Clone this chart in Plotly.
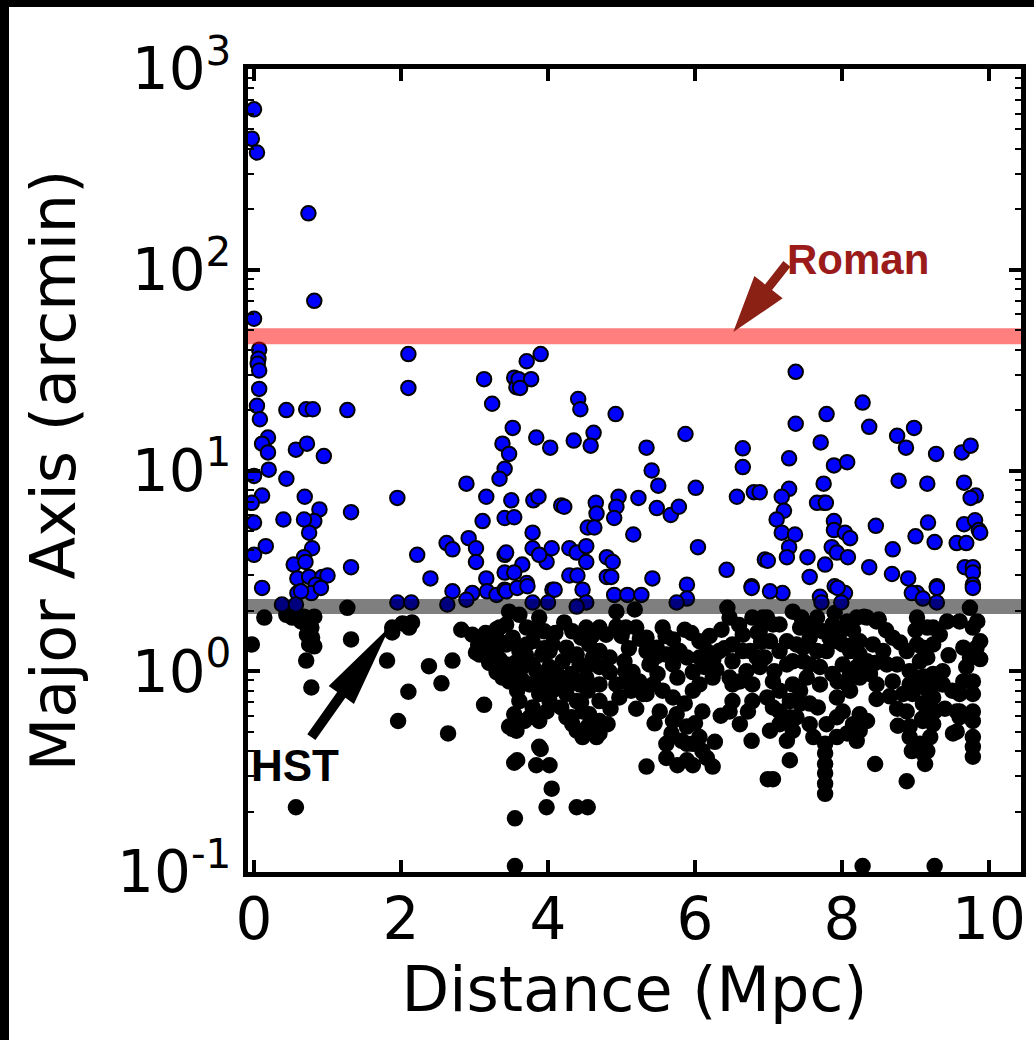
import math
import plotly.graph_objects as go

# ---------------- data (Distance in Mpc, Major axis in arcmin) ----------------
blue_x = [
    0.00, -0.03, 0.04, 0.74, 0.82, 0.00,
    0.07, 0.06, 0.05, 0.07, 0.07, 0.04, 0.08,
    0.44, 0.71, 0.80, 1.27, 2.10, 2.10,
    0.19, 0.11, 0.19, 0.57, 0.72, 0.95,
    0.00, 0.20, 0.44, 0.11, -0.03, 0.69, 0.89, 1.32, 1.95,
    0.82, 0.75, 0.79, 0.68, 0.40, 0.00, 0.16, 0.00, 0.68, 0.54,
    0.59, 0.75, 0.93, 1.00, 0.84, 0.78, 0.59, 0.11, 1.32, 2.22, 2.40,
    0.91, 0.38, 0.57, 1.95, 2.14, 0.64, 0.70,
    2.89, 3.16, 3.11, 2.62, 2.70, 2.92, 3.02, 3.02, 3.41, 3.41, 3.16, 3.41,
    2.70, 2.97, 3.17, 3.30, 2.63, 2.89,
    3.13, 3.24, 3.54, 3.57, 3.52, 3.38, 3.47, 3.41, 3.34, 3.50,
    3.90, 3.71, 3.60, 3.77, 3.62,
    4.41, 4.44, 4.92, 3.84, 4.03, 4.35, 4.62, 4.58, 5.87, 5.34, 5.41, 5.50,
    6.01, 6.65, 6.65,
    3.80, 3.87, 4.18, 4.22, 4.65, 4.66, 4.96, 4.93, 4.90, 5.23, 5.48, 5.67,
    5.78, 6.80, 6.57,
    4.54, 4.63, 5.16, 3.54, 3.79, 3.79,
    3.43, 3.65, 3.98, 4.05, 3.88, 4.29, 4.39, 4.52, 4.52,
    4.80, 4.88, 4.80, 4.86, 4.29, 4.40, 3.54, 3.71, 3.41, 4.06, 4.47,
    5.42, 5.89, 6.04, 6.43, 6.77, 4.90, 5.08, 5.27, 6.95,
    3.43, 3.58, 3.72, 3.79, 4.00, 4.09, 4.52, 4.39, 5.89, 5.75,
    7.37, 8.28, 7.79, 7.37, 8.37, 8.98, 8.75, 8.87, 7.28, 7.71, 7.89, 8.07,
    9.28, 9.63, 9.75, 8.77, 9.16, 9.66, 9.82, 9.75, 7.75, 7.75, 7.28, 7.18,
    7.21, 6.88,
    7.66, 7.78, 7.11, 7.89, 7.89, 8.04, 8.11, 7.18, 7.36, 7.28, 7.25, 7.86,
    7.93, 8.08, 7.53, 7.77, 7.56, 6.99,
    8.46, 8.69, 8.37, 8.68, 8.90, 9.02, 9.29, 9.00, 9.17, 9.26, 9.56, 9.69,
    9.66, 9.81, 9.86, 9.67, 9.78, 9.78, 9.78, 9.88,
    7.19, 7.02, 7.70, 8.04, 7.90, 7.72, 7.94, 7.99, 8.95, 9.10, 9.29, 9.29,
    9.78, 6.77,
]
blue_y = [
    630, 450, 384, 191, 70, 57,
    40, 36, 34, 31.5, 25.5, 21, 18,
    20, 20.2, 20.2, 20, 38, 25.8,
    14.6, 13.6, 12.3, 12.7, 13.6, 11.8,
    9.4, 10.1, 9.1, 7.5, 6.9, 7.4, 6.4, 6.2, 7.3,
    5.6, 4.9, 4.1, 5.7, 5.7, 5.5, 4.2, 3.8, 3.7, 3.4,
    2.9, 2.95, 2.95, 3.0, 2.7, 2.45, 2.45, 2.6, 3.3, 3.8, 2.9,
    2.6, 2.15, 2.15, 2.2, 2.2, 2.5, 3.5,
    8.6, 7.4, 5.6, 4.35, 4.05, 4.6, 4.1, 3.5, 5.8, 3.8, 2.9, 3.1,
    2.5, 2.45, 2.5, 2.4, 2.15, 2.27,
    28.5, 21.5, 29, 26, 16.3, 13.6, 12.1, 10.2, 9.1, 7.1,
    38, 35, 28.5, 28.5, 25.8,
    22.7, 20.2, 19.1, 14.6, 13.0, 14.1, 15.4, 13.3, 15.2, 13.0, 10.0, 8.4,
    8.2, 12.9, 10.4,
    7.1, 7.4, 6.7, 6.6, 6.9, 6.1, 7.4, 6.6, 5.8, 7.3, 6.5, 6.0,
    6.6, 7.8, 7.4,
    5.2, 5.2, 4.8, 5.85, 4.9, 4.1,
    3.9, 3.4, 3.5, 4.1, 3.8, 4.1, 3.9, 4.2, 3.5,
    3.7, 3.5, 2.95, 2.95, 3.0, 3.0, 3.1, 2.75, 2.55, 2.55, 2.55,
    2.9, 2.7, 4.15, 3.2, 2.65, 2.4, 2.4, 2.4, 3.6,
    2.5, 2.6, 2.65, 2.2, 2.2, 2.55, 2.2, 2.1, 2.3, 2.2,
    31, 21.8, 19.1, 17.1, 16.5, 16.3, 14.9, 13.0, 11.5, 13.8, 10.6, 11.0,
    12.1, 12.3, 13.3, 8.9, 8.6, 8.7, 7.5, 7.3, 8.6, 6.9, 8.1, 7.4,
    6.3, 7.8,
    6.9, 6.9, 5.7, 5.6, 5.05, 4.9, 4.6, 4.9, 4.8, 4.15, 3.7, 4.15,
    3.9, 3.7, 3.7, 3.4, 2.95, 3.55,
    5.3, 4.05, 3.3, 3.05, 2.9, 2.45, 2.65, 4.7, 5.5, 4.4, 4.35, 4.35,
    5.4, 5.65, 5.05, 3.3, 3.3, 3.1, 2.7, 4.9,
    2.45, 2.5, 2.35, 2.45, 2.65, 2.2, 2.6, 2.2, 2.45, 2.3, 2.6, 2.2,
    2.6, 2.6,
]

black_x = [
    1.27, 0.14, 0.44, 0.52, 0.64, 0.71, 0.78, 0.72, 0.79, 0.82, 0.75, 0.68,
    0.82, -0.03, 1.32, 0.71, 0.78, 1.81, 1.88, 2.02, 2.15, 2.11, 1.88, 2.10,
    1.96, 2.38, 2.55, 2.70, 2.64, 3.13, 0.57,
    2.82, 2.97, 3.11, 3.07, 3.24, 3.34, 3.38, 3.47, 3.55, 3.55,
    3.02, 3.30, 3.43, 3.20, 3.30,
    3.47, 3.61, 3.88, 3.95, 3.84, 4.22, 4.33, 4.52, 4.56, 4.45, 4.93, 4.93,
    5.18, 5.20, 5.34, 5.48, 5.48, 5.56, 5.70, 5.86, 6.06, 6.36, 6.44, 6.47,
    6.65, 6.78, 6.85, 6.92, 3.34,
    3.43, 3.52, 3.61, 3.43, 3.65, 3.47, 3.58, 3.75, 3.92, 3.84, 4.02, 4.20,
    4.16, 4.32, 4.43, 4.25, 4.56, 4.54, 4.70, 4.84, 5.04, 5.15, 4.97, 5.13,
    5.29, 5.49, 5.70, 5.76, 5.97, 6.13, 6.29, 6.51, 6.61, 6.47, 6.70, 6.78,
    3.54, 3.57, 3.79, 3.88, 3.68, 4.18, 4.32, 4.47, 4.33, 4.54, 4.70, 4.81,
    4.47, 4.66, 5.52, 5.70, 5.86, 5.70, 6.10, 5.68, 5.82, 5.97, 6.10, 6.27,
    6.47, 6.61, 6.72, 6.77,
    3.88, 3.58, 3.84, 4.02, 5.34, 5.76, 5.97, 6.24, 6.99, 4.05, 3.98, 4.39,
    4.54, 3.54, 3.52, 3.90,
    3.34, 3.71, 3.71, 4.06, 3.92, 4.11, 4.39, 4.70, 4.70, 4.52, 4.39, 4.70,
    5.06, 5.24, 5.38, 5.34, 5.89, 6.16, 6.24, 6.06, 6.51, 6.65, 6.84, 5.06,
    4.79, 3.88, 3.61, 4.02, 5.75, 5.56, 5.89, 5.97,
    6.98, 7.15, 7.02, 6.95, 7.15, 7.08, 7.25, 7.33, 7.43, 7.38, 7.47, 7.56,
    7.33, 7.52, 7.66, 7.74, 7.79, 7.87, 7.93, 8.01, 8.11, 7.94, 8.20, 8.34,
    8.47, 8.24, 8.42, 8.34, 8.20,
    6.98, 7.15, 7.29, 7.43, 7.15, 7.02, 7.25, 7.29, 7.06, 7.56, 7.67, 7.79,
    7.77, 7.77, 7.77, 7.77, 7.77, 7.77,
    7.93, 8.11, 8.01, 8.24, 8.07, 8.24, 8.34, 8.47, 8.47, 8.65, 8.45, 8.88,
    8.69, 8.79, 8.88, 8.75, 8.92, 8.69, 9.02, 9.16, 9.24, 9.33, 9.16, 9.24,
    9.37,
    8.96, 9.10, 9.24, 8.88, 8.76, 8.92, 9.10, 9.24, 9.20, 9.16, 9.13, 9.51,
    9.60, 9.74, 9.78, 9.88, 9.65, 9.74, 9.88, 9.65, 9.78, 9.60, 9.78, 9.78,
    9.78, 9.78, 9.56, 9.56,
    8.28, 9.26, 9.11, 9.16, 9.16, 9.09, 8.30, 8.50,
    6.88, 7.06, 7.56, 7.70, 7.56, 7.38, 7.15, 8.07, 8.15, 7.87, 8.07, 8.61,
    8.56, 9.02, 9.06, 9.02, 9.37, 8.83, 9.69, 9.83, 9.84, 9.60, 9.06, 9.26,
    3.43, 3.79, 4.02, 3.61, 3.79, 4.25, 4.43, 4.61, 4.84, 4.70, 4.06, 4.29,
    3.75, 3.98, 4.25, 4.56, 4.39, 4.70, 4.93, 5.15, 5.43, 5.34, 5.61, 5.79,
    6.06, 6.33, 6.51, 6.75, 6.88, 6.51, 6.78, 5.61, 5.89, 6.06, 5.89, 6.16,
    5.61,
    7.06, 7.25, 7.33, 7.47, 7.66, 7.70, 7.83, 8.01, 8.11, 8.24, 8.38, 8.24,
    7.43, 7.29, 7.06, 7.33, 7.93, 8.15, 7.61, 7.93, 8.20, 8.92, 9.10, 9.24,
    8.92, 9.10, 9.60, 9.78, 9.78, 9.10, 9.24, 9.43,
    3.15, 3.25, 3.30, 3.20, 3.05,
    5.00, 5.10, 5.25, 5.60, 5.75, 5.95, 6.20, 6.25, 6.40, 6.60, 6.90, 5.40,
    5.05, 4.60, 4.10, 3.95, 4.35, 3.70, 3.55, 3.65, 4.00, 4.45, 4.85, 5.20,
    5.45, 6.00, 6.35, 7.45, 7.60, 8.00, 8.60, 8.45, 8.75, 9.45, 9.50, 9.40,
    9.00, 8.95, 7.90, 8.15,
]
black_y = [
    2.07, 1.85, 1.91, 1.85, 1.77, 1.71, 1.65, 1.52, 1.47, 1.33, 1.36, 1.87,
    1.87, 1.36, 1.44, 1.13, 0.83, 1.13, 1.65, 1.73, 1.75, 1.65, 1.56, 0.79,
    0.565, 1.06, 0.87, 1.13, 0.49, 0.68, 0.21,
    1.61, 1.52, 1.41, 1.21, 1.29, 1.15, 0.93, 0.53, 0.185, 0.107,
    1.24, 0.99, 1.02, 1.45, 1.62,
    1.98, 1.91, 1.85, 1.58, 1.65, 1.75, 1.58, 1.65, 1.36, 1.47, 1.98, 1.67,
    2.03, 1.65, 1.47, 1.31, 1.19, 1.65, 1.44, 1.61, 1.41, 1.61, 2.07, 1.85,
    1.52, 1.85, 1.56, 1.85, 1.65,
    1.36, 1.47, 1.26, 1.08, 1.05, 0.89, 0.80, 0.86, 1.21, 1.00, 1.05, 1.12,
    0.89, 0.97, 0.86, 0.77, 1.08, 0.80, 0.86, 0.99, 1.12, 0.99, 0.74, 0.80,
    0.77, 0.97, 1.08, 0.93, 0.99, 1.05, 1.02, 1.12, 0.89, 0.93, 1.00, 0.86,
    0.61, 0.505, 0.66, 0.565, 0.565, 0.66, 0.59, 0.63, 0.545, 0.53, 0.565, 0.545,
    0.47, 0.47, 0.63, 0.74, 0.69, 0.565, 0.63, 0.49, 0.45, 0.435, 0.40, 0.445,
    0.63, 0.545, 0.63, 0.45,
    0.42, 0.36, 0.34, 0.34, 0.335, 0.34, 0.34, 0.335, 0.29, 0.26, 0.21, 0.21,
    0.21, 0.35, 0.515, 0.41,
    1.41, 1.65, 1.36, 1.36, 0.89, 1.00, 1.21, 1.26, 1.05, 0.93, 0.71, 0.71,
    0.89, 0.89, 1.08, 1.26, 1.17, 1.26, 0.93, 0.86, 0.86, 1.26, 1.17, 1.65,
    1.52, 0.77, 0.71, 0.71, 0.61, 0.80, 0.53, 0.80,
    1.85, 1.71, 1.41, 1.17, 1.26, 1.00, 1.08, 1.98, 1.65, 1.36, 1.12, 1.47,
    0.86, 0.93, 1.85, 1.58, 1.26, 1.71, 1.41, 1.08, 1.26, 0.89, 1.85, 1.85,
    1.77, 1.41, 1.36, 1.12, 1.05,
    0.74, 0.80, 0.71, 0.80, 0.63, 0.505, 0.45, 0.36, 0.29, 0.545, 0.66, 0.545,
    0.435, 0.39, 0.345, 0.31, 0.275, 0.245,
    0.74, 0.80, 0.63, 0.61, 0.49, 0.505, 0.565, 0.86, 0.727, 0.75, 0.345, 0.283,
    1.47, 1.39, 1.26, 1.08, 1.00, 0.89, 1.85, 1.65, 1.36, 1.52, 1.17, 0.97,
    0.86,
    0.77, 0.69, 0.74, 0.63, 0.535, 0.53, 0.565, 0.545, 0.47, 0.40, 0.345, 0.49,
    1.77, 2.07, 1.65, 1.41, 1.31, 1.17, 1.15, 0.89, 0.89, 0.59, 0.63, 0.565,
    0.47, 0.42, 0.63, 0.50,
    0.107, 0.107, 0.94, 0.81, 0.67, 0.58, 1.87, 1.81,
    1.58, 0.89, 1.08, 0.86, 0.69, 0.59, 0.545, 0.86, 1.36, 0.97, 1.77, 1.08,
    1.26, 0.93, 1.12, 1.36, 1.00, 0.77, 1.05, 1.31, 1.77, 0.63, 0.435, 0.63,
    1.71, 1.41, 1.26, 0.97, 1.08, 1.31, 1.08, 1.17, 1.17, 1.65, 0.80, 0.86,
    0.59, 0.63, 0.59, 0.61, 0.505, 0.49, 0.86, 0.86, 0.86, 0.77, 1.21, 1.26,
    1.17, 1.26, 1.36, 1.26, 1.05, 0.71, 0.71, 0.435, 0.435, 0.47, 0.36, 0.37,
    0.37,
    1.71, 1.41, 1.12, 1.31, 1.26, 1.05, 1.47, 1.36, 0.97, 0.93, 0.97, 1.21,
    0.69, 0.59, 0.66, 0.505, 0.59, 0.545, 0.47, 0.47, 0.45, 0.86, 0.86, 0.86,
    0.47, 0.39, 0.77, 0.77, 0.375, 1.31, 1.65, 1.77,
    1.55, 1.40, 1.20, 1.10, 1.35,
    1.50, 1.30, 1.45, 1.50, 1.25, 1.55, 1.50, 1.15, 1.30, 1.70, 1.40, 1.10,
    1.00, 1.50, 1.55, 1.30, 1.20, 1.20, 1.10, 0.90, 0.90, 0.70, 0.65, 0.65,
    0.55, 0.55, 0.60, 1.85, 1.70, 1.60, 1.60, 1.10, 0.65, 1.20, 0.80, 0.65,
    1.60, 0.40, 1.95, 1.60,
]

# field-of-view reference lines (arcmin)
roman_fov = 46.6
hst_fov = 2.1

x_ticks = [0, 2, 4, 6, 8, 10]
y_ticks = [0.1, 1, 10, 100, 1000]
y_tick_text = ["10<sup>-1</sup>", "10<sup>0</sup>", "10<sup>1</sup>",
               "10<sup>2</sup>", "10<sup>3</sup>"]
y_minor = [m * 10 ** e for e in (-1, 0, 1, 2) for m in range(2, 10)]

# annotation anchors (data units)
roman_label = (8.22, 112)
roman_tail, roman_tip = (7.25, 107), (6.52, 49.0)
hst_label = (0.56, 0.34)
hst_tail, hst_tip = (0.78, 0.47), (1.85, 1.67)

# ---------------- layout geometry ----------------
FIG_W, FIG_H = 1025, 1033
ML, MR, MT, MB = 239, 13, 62, 168
PW, PH = FIG_W - ML - MR, FIG_H - MT - MB
XR = [-0.082, 10.435]
YR = [-1.0002, 3.0002]


def to_px(x, y):
    return ((x - XR[0]) / (XR[1] - XR[0]) * PW,
            (math.log10(y) - YR[0]) / (YR[1] - YR[0]) * PH)


def arrow_path(tail, tip, head_len, head_w, shaft_w):
    tx, ty = to_px(*tail)
    px, py = to_px(*tip)
    L = math.hypot(px - tx, py - ty)
    dx, dy = (px - tx) / L, (py - ty) / L
    nx, ny = -dy, dx
    bx, by = px - dx * head_len, py - dy * head_len
    pts = [
        (tx + nx * shaft_w / 2, ty + ny * shaft_w / 2),
        (bx + nx * shaft_w / 2, by + ny * shaft_w / 2),
        (bx + nx * head_w / 2, by + ny * head_w / 2),
        (px, py),
        (bx - nx * head_w / 2, by - ny * head_w / 2),
        (bx - nx * shaft_w / 2, by - ny * shaft_w / 2),
        (tx - nx * shaft_w / 2, ty - ny * shaft_w / 2),
    ]
    return "M " + " L ".join(f"{a / PW:.5f},{b / PH:.5f}" for a, b in pts) + " Z"


fig = go.Figure()

fig.add_trace(go.Scatter(
    x=black_x, y=black_y, mode="markers",
    marker=dict(size=14.5, color="black", line=dict(color="black", width=2)),
    hoverinfo="skip"))
fig.add_trace(go.Scatter(
    x=blue_x, y=blue_y, mode="markers",
    marker=dict(size=14.5, color="#0000ff", line=dict(color="black", width=2)),
    hoverinfo="skip"))
fig.add_trace(go.Scatter(
    x=[XR[0] - 1, XR[1] + 1], y=[hst_fov, hst_fov], mode="lines",
    line=dict(color="rgba(0,0,0,0.5)", width=15), hoverinfo="skip"))
fig.add_trace(go.Scatter(
    x=[XR[0] - 1, XR[1] + 1], y=[roman_fov, roman_fov], mode="lines",
    line=dict(color="rgba(255,0,0,0.5)", width=16), hoverinfo="skip"))

fig.add_shape(type="path", xref="paper", yref="paper",
              path=arrow_path(roman_tail, roman_tip, 57, 36, 9),
              fillcolor="#8b2015", line=dict(width=0), layer="above")
fig.add_shape(type="path", xref="paper", yref="paper",
              path=arrow_path(hst_tail, hst_tip, 84, 31, 10),
              fillcolor="black", line=dict(width=0), layer="above")

fig.add_annotation(x=roman_label[0], y=math.log10(roman_label[1]),
                   xref="x", yref="y", text="<b>Roman</b>", showarrow=False,
                   font=dict(family="Liberation Sans", size=42, color="#9b1b1b"),
                   xanchor="center", yanchor="middle")
fig.add_annotation(x=hst_label[0], y=math.log10(hst_label[1]),
                   xref="x", yref="y", text="<b>HST</b>", showarrow=False,
                   font=dict(family="Liberation Sans", size=44, color="black"),
                   xanchor="center", yanchor="middle")

tick_font = dict(family="DejaVu Sans", size=58, color="black")
title_font = dict(family="DejaVu Sans", size=62, color="black")

fig.update_xaxes(
    range=XR, showgrid=False, zeroline=False,
    showline=True, linewidth=5, linecolor="black", mirror="ticks",
    ticks="inside", ticklen=12, tickwidth=3.5, tickcolor="black",
    tickvals=x_ticks, ticktext=[str(v) for v in x_ticks],
    tickfont=tick_font, ticklabelstandoff=-8,
    title=dict(text="Distance (Mpc)", font=title_font, standoff=16))
fig.update_yaxes(
    type="log", range=YR, showgrid=False, zeroline=False,
    showline=True, linewidth=5, linecolor="black", mirror="ticks",
    ticks="inside", ticklen=12, tickwidth=3.5, tickcolor="black",
    tickvals=y_ticks, ticktext=y_tick_text, tickfont=tick_font,
    minor=dict(tickmode="array", tickvals=y_minor, ticks="inside",
               ticklen=6, tickwidth=2, tickcolor="black", showgrid=False),
    title=dict(text="Major Axis (arcmin)", font=title_font, standoff=23))

fig.update_layout(
    width=FIG_W, height=FIG_H,
    margin=dict(l=ML, r=MR, t=MT, b=MB, autoexpand=False),
    paper_bgcolor="white", plot_bgcolor="white",
    showlegend=False, hovermode=False,
)

post = ("document.documentElement.style.overflow='hidden';"
        "document.body.style.overflow='hidden';"
        "document.body.style.margin='7px 0 0 9px';"
        "document.body.style.background='black';")
fig.write_html("out.html", post_script=post, config={"displayModeBar": False})
